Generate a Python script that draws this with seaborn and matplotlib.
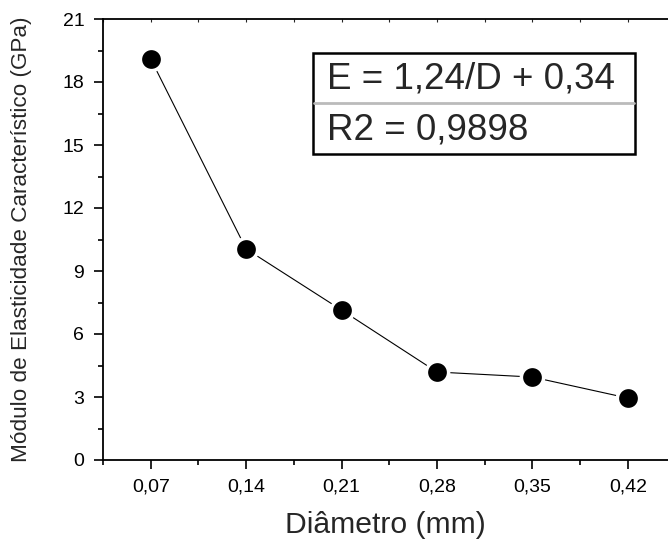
import matplotlib
matplotlib.use("Agg")
import matplotlib.pyplot as plt
import seaborn as sns
import pandas as pd
from matplotlib.patches import Rectangle
from matplotlib.lines import Line2D
from matplotlib.ticker import MultipleLocator, FuncFormatter

diametro = [0.07, 0.14, 0.21, 0.28, 0.35, 0.42]
modulo = [19.1, 10.05, 7.14, 4.19, 3.95, 2.95]
y_ticks = [0, 3, 6, 9, 12, 15, 18, 21]
eq_lines = ["E = 1,24/D + 0,34", "R2 = 0,9898"]

sns.set_style("ticks")
plt.rcParams["font.family"] = ["Liberation Sans", "DejaVu Sans"]

data = pd.DataFrame({"Diametro": diametro, "Modulo": modulo})

fig = plt.figure(figsize=(6.68, 5.43), dpi=100)
ax = fig.add_axes([103 / 668, 83 / 543, 565 / 668, 441 / 543])

sns.lineplot(
    data=data, x="Diametro", y="Modulo", ax=ax,
    color="black", linewidth=0.8, marker="o", markersize=16,
    markerfacecolor="black", markeredgecolor="white", markeredgewidth=2.5,
)

ax.set_xlim(0.035, 0.4495)
ax.set_ylim(0, 21)
ax.set_xticks(diametro)
ax.set_yticks(y_ticks)
ax.xaxis.set_minor_locator(MultipleLocator(0.035))
ax.yaxis.set_minor_locator(MultipleLocator(1.5))
ax.xaxis.set_major_formatter(FuncFormatter(lambda v, p: f"{v:.2f}".replace(".", ",")))
ax.tick_params(axis="both", which="major", direction="out", length=6.5, width=1.2,
               labelsize=14, color="black", labelcolor="black")
ax.tick_params(axis="both", which="minor", direction="out", length=3.5, width=1.2,
               color="black")
ax.tick_params(axis="x", pad=7)
ax.tick_params(axis="y", pad=7)

for s in ["left", "bottom", "top"]:
    ax.spines[s].set_color("black")
    ax.spines[s].set_linewidth(1.3)
ax.spines["right"].set_visible(False)

top = ax.secondary_xaxis("top")
top.set_xticks(diametro)
top.xaxis.set_minor_locator(MultipleLocator(0.035))
top.tick_params(which="both", direction="in", length=2, width=0.8, labeltop=False)
top.spines["top"].set_visible(False)

ax.set_xlabel("Diâmetro (mm)", fontsize=21.7, labelpad=11)
ax.set_ylabel("Módulo de Elasticidade Característico (GPa)", fontsize=16.2, labelpad=22)

# caixa com a equação
x0, x1 = 313 / 668, 635 / 668
yb, ym, yt = 1 - 154 / 543, 1 - 103 / 543, 1 - 53 / 543
fig.patches.append(Rectangle((x0, yb), x1 - x0, yt - yb, transform=fig.transFigure,
                             facecolor="white", edgecolor="black", linewidth=1.8,
                             zorder=5))
fig.lines.append(Line2D([x0 + 0.002, x1 - 0.002], [ym, ym], transform=fig.transFigure,
                        color="#bbbbbb", linewidth=2, zorder=6))
fig.text(327 / 668, (yt + ym) / 2 - 0.002, eq_lines[0], fontsize=26.5, va="center",
         ha="left", zorder=7)
fig.text(327 / 668, (ym + yb) / 2 - 0.002, eq_lines[1], fontsize=26.5, va="center",
         ha="left", zorder=7)

fig.savefig("out.png", dpi=100)
